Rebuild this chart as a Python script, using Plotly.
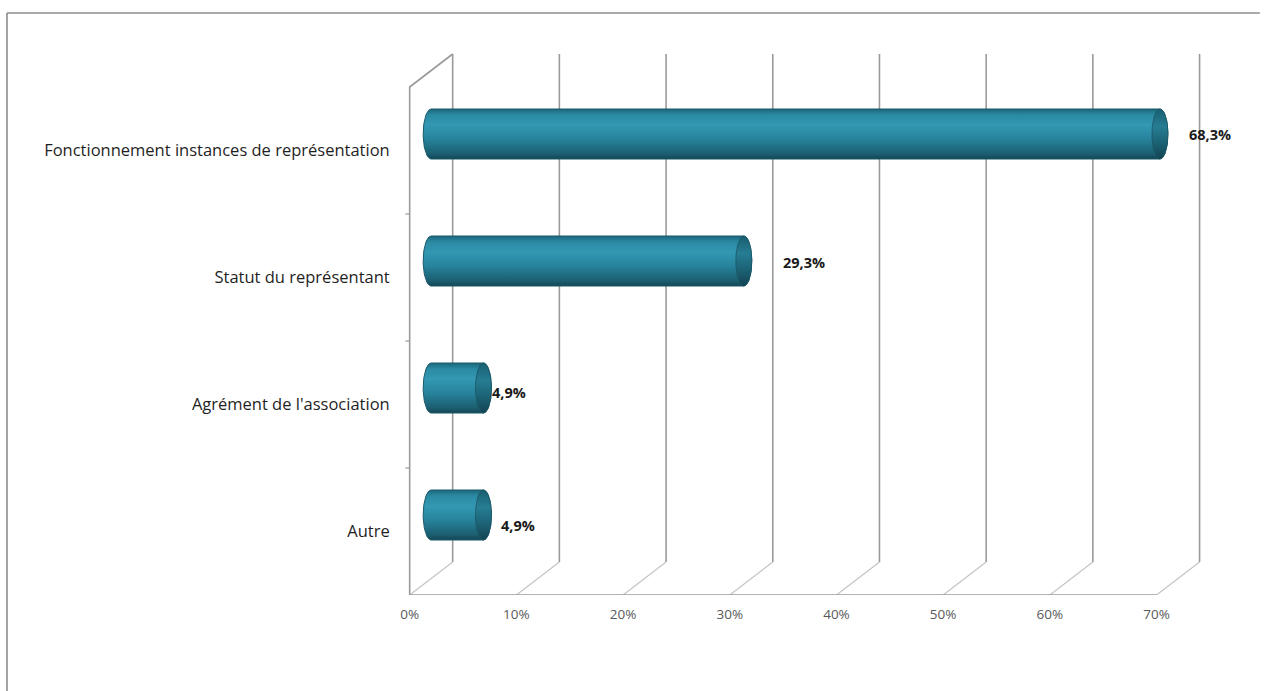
import numpy as np
import plotly.graph_objects as go

# ---- data -------------------------------------------------------------
categories = [
    "Fonctionnement instances de représentation",
    "Statut du représentant",
    "Agrément de l'association",
    "Autre",
]
values = [68.3, 29.3, 4.9, 4.9]
value_labels = ["68,3%", "29,3%", "4,9%", "4,9%"]
x_ticks = [0, 10, 20, 30, 40, 50, 60, 70]
x_tick_labels = ["0%", "10%", "20%", "30%", "40%", "50%", "60%", "70%"]

# ---- geometry of the pseudo-3D frame -----------------------------------
PX_PER_PCT = 10.67          # horizontal pixels per percentage point
PX_PER_CAT = 127.0          # vertical pixels per category band
DEPTH_X = 43 / PX_PER_PCT   # depth offset of the back wall (x units)
DEPTH_Y = 33 / PX_PER_CAT   # depth offset of the back wall (y units)
R_Y = 25 / PX_PER_CAT       # cylinder radius (y units)
R_X = 8 / PX_PER_PCT        # end-cap ellipse half width (x units)
X_MAX = 70

# label nudges (pixels) for the value labels, right / down
label_dx = [19, 29, -1, 8]
label_dy = [0, 1, 4, 10]

n = len(categories)
pos = [n - 1 - i for i in range(n)]   # top category drawn highest

LINE = "#9a9a9a"
LINE_LIGHT = "#c4c4c4"

fig = go.Figure()


def seg_trace(xs, ys, color, width):
    fig.add_trace(go.Scatter(x=xs, y=ys, mode="lines",
                             line=dict(color=color, width=width),
                             hoverinfo="skip", showlegend=False))


y_bot, y_top = -0.5, n - 0.5

# back wall vertical gridlines
xs, ys = [], []
for t in x_ticks:
    xs += [t + DEPTH_X, t + DEPTH_X, None]
    ys += [y_bot + DEPTH_Y, y_top + DEPTH_Y, None]
seg_trace(xs, ys, LINE, 1.6)

# floor diagonals
xs, ys = [], []
for t in x_ticks:
    xs += [t, t + DEPTH_X, None]
    ys += [y_bot, y_bot + DEPTH_Y, None]
seg_trace(xs, ys, LINE_LIGHT, 1.2)

# front baseline
seg_trace([0, X_MAX], [y_bot, y_bot], LINE, 1.6)

# left wall: front edge, top edge
seg_trace([0, 0, DEPTH_X], [y_bot, y_top, y_top + DEPTH_Y], LINE, 1.6)

# category boundary ticks on the left wall
xs, ys = [], []
for k in range(1, n):
    b = k - 0.5
    xs += [-0.4, 0, None]
    ys += [b, b, None]
seg_trace(xs, ys, LINE, 1.2)

# ---- cylinders ---------------------------------------------------------
body_scale = [
    [0.00, "#144655"],
    [0.10, "#1b5e70"],
    [0.40, "#27839c"],
    [0.68, "#3398b3"],
    [0.88, "#2b8aa3"],
    [1.00, "#1c6679"],
]
cap_scale = [
    [0.00, "#134352"],
    [0.30, "#1b6072"],
    [0.65, "#267d93"],
    [1.00, "#1a5e70"],
]

for i in range(n):
    yc = pos[i] + DEPTH_Y / 2
    x0 = DEPTH_X / 2
    x1 = DEPTH_X / 2 + values[i]

    t_left = np.linspace(np.pi / 2, 3 * np.pi / 2, 40)
    t_right = np.linspace(-np.pi / 2, np.pi / 2, 40)
    bx = np.concatenate([x0 + R_X * np.cos(t_left), x1 + R_X * np.cos(t_right)])
    by = np.concatenate([yc + R_Y * np.sin(t_left), yc + R_Y * np.sin(t_right)])
    bx = np.append(bx, bx[0])
    by = np.append(by, by[0])
    fig.add_trace(go.Scatter(
        x=bx, y=by, mode="lines", fill="toself",
        line=dict(color="#1b5a6a", width=1),
        fillgradient=dict(type="vertical", colorscale=body_scale,
                          start=yc - R_Y, stop=yc + R_Y),
        hoverinfo="skip", showlegend=False))

    t_cap = np.linspace(0, 2 * np.pi, 80)
    fig.add_trace(go.Scatter(
        x=x1 + R_X * np.cos(t_cap), y=yc + R_Y * np.sin(t_cap),
        mode="lines", fill="toself",
        line=dict(color="#1a5565", width=0.8),
        fillgradient=dict(type="vertical", colorscale=cap_scale,
                          start=yc - R_Y, stop=yc + R_Y),
        hoverinfo="skip", showlegend=False))

    fig.add_annotation(
        x=x1 + R_X, y=yc, text=value_labels[i], showarrow=False,
        xanchor="left", yanchor="middle",
        xshift=label_dx[i], yshift=-label_dy[i],
        font=dict(family="Open Sans", size=14.5, color="#1a1a1a", weight="bold"))

# ---- outer chart frame (top and left border) ---------------------------
fig.add_shape(type="line", xref="paper", yref="paper",
              x0=-0.4804, x1=1.055, y0=1.0486, y1=1.0486,
              line=dict(color="#8c8c8c", width=1.6))
fig.add_shape(type="line", xref="paper", yref="paper",
              x0=-0.4804, x1=-0.4804, y0=1.0486, y1=-0.18,
              line=dict(color="#8c8c8c", width=1.6))

plot_w = 1264 - 399 - 49
plot_h = 691 - 40 - 96
fig.update_layout(
    width=1264, height=691,
    margin=dict(l=399, r=49, t=40, b=96),
    paper_bgcolor="white", plot_bgcolor="white",
    showlegend=False,
    xaxis=dict(range=[-1, -1 + plot_w / PX_PER_PCT],
               tickvals=x_ticks, ticktext=x_tick_labels,
               showgrid=False, zeroline=False, showline=False,
               ticks="outside", ticklen=7, tickcolor="rgba(0,0,0,0)",
               tickfont=dict(family="Open Sans", size=13.5, color="#595959"),
               fixedrange=True),
    yaxis=dict(range=[y_bot, y_bot + plot_h / PX_PER_CAT],
               tickvals=pos, ticktext=categories,
               showgrid=False, zeroline=False, showline=False,
               ticks="outside", ticklen=5, tickcolor="rgba(0,0,0,0)",
               tickfont=dict(family="Open Sans", size=16.5, color="#1f1f1f"),
               fixedrange=True),
)

fig.write_html("out.html")
